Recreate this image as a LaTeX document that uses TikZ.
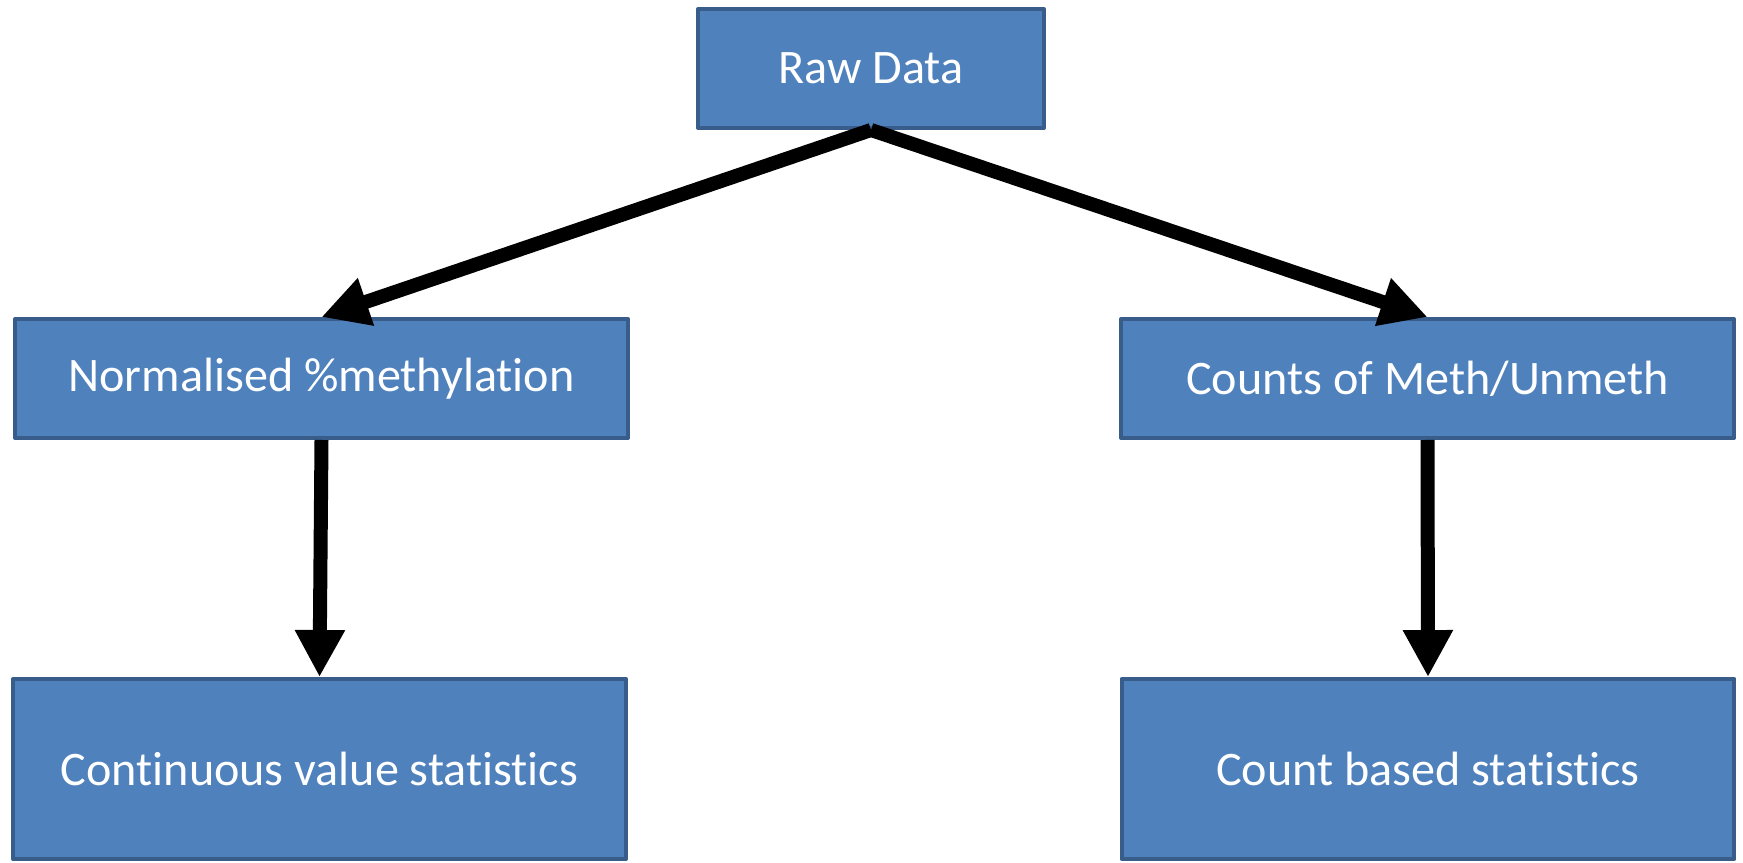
\documentclass[tikz,border=0pt]{standalone}
\usepackage{fontspec}
\setmainfont{Carlito}[Ligatures=NoCommon]
\usetikzlibrary{positioning,arrows.meta}
\definecolor{boxfill}{HTML}{4F81BD}
\definecolor{boxline}{HTML}{385D8A}
\tikzset{
  box/.style={draw=boxline,fill=boxfill,line width=0.08cm,line join=round,text=white,
    minimum width=12.26cm,minimum height=2.38cm,inner sep=0pt,
    font=\fontsize{27.4}{33}\selectfont},
  flow/.style={line width=0.28cm,-{Triangle[length=0.94cm,width=0.94cm]}}
}
\begin{document}
\begin{tikzpicture}[x=0.02cm,y=-0.02cm]
        \useasboundingbox (0,0) rectangle (1743,862);
        \node[box,minimum width=6.92cm] (raw) at (871,68.5) {Raw Data};
        \node[box] (norm) at (321.5,378.5) {Normalised \%methylation};
        \node[box] (counts) at (1427.5,378.5) {Counts of Meth/Unmeth};
        \node[box,minimum height=3.6cm] (cont) at (319.5,769) {Continuous value statistics};
        \node[box,minimum height=3.6cm] (cstats) at (1428,769) {Count based statistics};
        \draw[flow] (raw.south) -- (norm.north);
        \draw[flow] (raw.south) -- (counts.north);
        \draw[flow] (norm.south) -- (cont.north);
        \draw[flow] (counts.south) -- (cstats.north);
    \end{tikzpicture}
\end{document}
